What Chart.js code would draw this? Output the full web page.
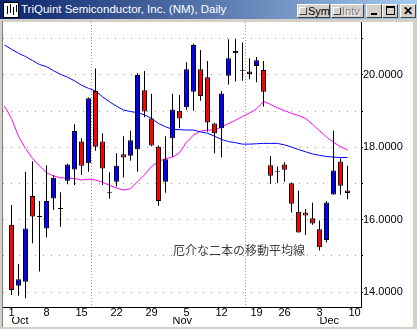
<!DOCTYPE html>
<html>
<head>
<meta charset="utf-8">
<script src="https://cdn.jsdelivr.net/npm/chart.js@4"></script>
<style>
  html, body { margin: 0; padding: 0; }
  body { width: 417px; height: 329px; background: #d4d0c8; position: relative; overflow: hidden;
         font-family: "Liberation Sans", Arial, sans-serif; }
  #bar { position: absolute; left: 0; top: 0; width: 417px; height: 19px;
         background: linear-gradient(to right, #0a246a, #a6caf0); }
  #ttl { position: absolute; left: 21px; top: 3px; color: #fff; font-size: 11.5px; line-height: 13px; white-space: nowrap; }
  #ico { position: absolute; left: 3px; top: 2px; width: 14px; height: 14px; background: #fff; border: 1px solid #000; }
  #ico i { position: absolute; width: 1px; background: #000; }
  .btn { position: absolute; top: 4px; height: 12px; background: #d4d0c8; border: 1px solid;
         border-color: #fff #404040 #404040 #fff; font-size: 11px; line-height: 12px; color: #000; box-sizing: content-box; }
  .chk { position: absolute; left: 1px; top: 2px; width: 6px; height: 6px; border: 1px solid;
         border-color: #fff #404040 #404040 #fff; }
  #edge { position: absolute; left: 2px; top: 21px; width: 1px; height: 306px; background: #808080; }
  #plot { position: absolute; left: 3px; top: 22px; background: #fff; }
  #note { position: absolute; left: 173px; top: 243px; font-family: "Noto Sans CJK JP"; font-size: 12px;
          line-height: 14px; color: #404040; white-space: nowrap; }
</style>
</head>
<body>
<div id="bar"></div>
<div id="ico"><i style="left:3px;top:3px;height:8px"></i><i style="left:6px;top:1px;height:9px"></i><i style="left:9px;top:4px;height:8px"></i><i style="left:12px;top:2px;height:7px"></i></div>
<div id="ttl">TriQuint Semiconductor, Inc. (NM), Daily</div>
<div class="btn" style="left:297px;width:31px"><span class="chk"></span><span style="position:absolute;left:10px;top:0">Sym</span></div>
<div class="btn" style="left:331px;width:31px"><span class="chk"></span><span style="position:absolute;left:10px;top:0;color:#808080;text-shadow:1px 1px #fff">Intv</span></div>
<div class="btn" style="left:366px;width:14px"><span style="position:absolute;left:4px;top:8px;width:6px;height:2px;background:#000"></span></div>
<div class="btn" style="left:382px;width:14px"><span style="position:absolute;left:3px;top:1px;width:7px;height:6px;border:1px solid #000;border-top-width:2px"></span></div>
<div class="btn" style="left:400px;width:14px;text-align:center;font-weight:bold;font-size:12px">&#x2715;</div>
<div id="edge"></div>
<canvas id="plot" width="410" height="305"></canvas>
<div id="note">厄介な二本の移動平均線</div>
<script>
// trading days, first entry (9/28) only carries moving-average values
const days = ['9/28',
  '10/1','10/2','10/3','10/4','10/5','10/8','10/9','10/10','10/11','10/12',
  '10/15','10/16','10/17','10/18','10/19','10/22','10/23','10/24','10/25','10/26',
  '10/29','10/30','10/31','11/1','11/2','11/5','11/6','11/7','11/8','11/9',
  '11/12','11/13','11/14','11/15','11/16','11/19','11/20','11/21','11/23',
  '11/26','11/27','11/28','11/29','11/30','12/3','12/4','12/5','12/6','12/7'];

const open = [null,
  15.86, 14.18, 14.29, 16.66, 16.08, 15.76, 16.59, 16.30, 17.08, 17.39,
  18.16, 17.56, 19.56, 18.16, 16.73, 17.05, 17.81, 17.77, 17.95, 19.58,
  18.80, 18.02, 17.05, 18.25, 19.01, 19.11, 19.54, 20.16, 19.94, 18.66,
  18.53, 19.98, 20.66, 20.12, 20.10, 20.25, 20.14, 17.51, 17.33,
  17.53, 17.01, 16.22, 16.20, 16.04, 15.74, 15.44, 16.70, 17.61, 16.81];
const high = [null,
  16.41, 14.78, 17.33, 17.62, 16.52, 17.51, 17.24, 16.76, 17.55, 18.64,
  18.25, 19.38, 20.18, 18.39, 17.31, 17.84, 18.31, 18.46, 20.05, 20.11,
  19.48, 18.05, 18.31, 19.48, 19.45, 20.35, 20.86, 20.69, 20.39, 18.68,
  19.56, 20.99, 20.99, 20.90, 20.46, 20.50, 20.39, 17.76, 17.47,
  17.59, 17.03, 16.80, 16.30, 16.47, 15.98, 16.52, 18.46, 17.70, 17.49];
const low = [null,
  13.92, 13.90, 13.83, 15.35, 14.57, 15.52, 16.27, 15.81, 16.98, 16.96,
  17.24, 17.33, 17.91, 16.96, 16.59, 16.92, 17.17, 17.63, 17.33, 18.83,
  18.03, 16.39, 16.75, 17.74, 18.53, 19.03, 19.01, 19.29, 18.43, 17.84,
  17.72, 19.74, 19.82, 19.84, 19.88, 19.80, 19.13, 16.99, 17.01,
  17.05, 16.20, 15.65, 15.58, 15.86, 15.15, 15.37, 16.69, 16.69, 16.57];
const close = [null,
  14.06, 14.36, 15.76, 16.09, 16.08, 16.52, 17.16, 16.30, 17.53, 18.45,
  17.49, 19.36, 18.02, 17.42, 16.73, 17.49, 17.72, 18.20, 20.00, 18.99,
  18.05, 16.52, 17.67, 19.05, 18.80, 20.16, 20.83, 19.42, 18.69, 18.39,
  19.49, 20.46, 20.60, 20.12, 20.03, 20.41, 19.54, 17.22, 17.33,
  17.38, 16.44, 15.65, 16.12, 15.90, 15.24, 16.48, 17.36, 16.94, 16.74];

// the two moving averages (blue = slow, magenta = fast)
const maSlow = [20.83,
  20.71, 20.60, 20.51, 20.40, 20.29, 20.23, 20.12, 20.02, 19.94, 19.84,
  19.72, 19.63, 19.56, 19.40, 19.26, 19.14, 19.03, 18.99, 18.96, 18.90,
  18.80, 18.66, 18.57, 18.50, 18.49, 18.48, 18.48, 18.43, 18.39, 18.31,
  18.22, 18.16, 18.13, 18.09, 18.09, 18.10, 18.11, 18.11, 18.11,
  18.07, 18.01, 17.94, 17.88, 17.82, 17.78, 17.75, 17.73, 17.72, 17.72];
const maFast = [19.14,
  18.80, 18.31, 17.97, 17.70, 17.49, 17.30, 17.21, 17.16, 17.15, 17.14,
  17.10, 17.12, 17.10, 17.04, 16.95, 16.88, 16.82, 16.86, 17.05, 17.24,
  17.47, 17.61, 17.69, 17.73, 17.85, 18.14, 18.34, 18.45, 18.48, 18.48,
  18.56, 18.66, 18.75, 18.85, 18.95, 19.06, 19.27, 19.19, 19.09,
  19.02, 18.94, 18.88, 18.80, 18.64, 18.46, 18.29, 18.14, 18.02, 17.93];

// axis labels: day ticks on Mondays, months at first trading day
const dayTicks = [1, 6, 11, 16, 21, 26, 31, 36, 40, 45, 50];
const dayLabels = ['1', '8', '15', '22', '29', '5', '12', '19', '26', '3', '10'];
const monthTicks = [1, 24, 45];
const monthLabels = ['Oct', 'Nov', 'Dec'];
const priceTicks = [14, 15, 16, 17, 18, 19, 20, 21];

const FONT = '"Liberation Sans", Arial, sans-serif';
const X_MIN = -0.2143, X_MAX = 50.929;
const Y_MIN = 13.591, Y_MAX = 21.464;

const bodies = [], wicks = [], bodyColors = [];
days.forEach(function(d, i) {
    if (open[i] == null) return;
    bodies.push({x: i, y: [open[i], close[i]]});
    wicks.push({x: i, y: [low[i], high[i]]});
    bodyColors.push(close[i] > open[i] ? '#0000ff' : (close[i] < open[i] ? '#ff0000' : '#000000'));
});

new Chart(document.getElementById('plot'), {
    type: 'bar',
    data: {
        datasets: [{
            data: bodies,
            backgroundColor: bodyColors,
            borderColor: '#000',
            borderWidth: 1,
            borderSkipped: false,
            barThickness: 5,
            minBarLength: 1,
            inflateAmount: 0,
            grouped: false,
            order: 0
        }, {
            data: wicks,
            backgroundColor: '#000',
            borderWidth: 0,
            barThickness: 1,
            inflateAmount: 0,
            grouped: false,
            order: 1
        }, {
            type: 'line',
            data: maSlow.map(function(v, i) { return {x: i, y: v}; }),
            borderColor: '#0000ff',
            borderWidth: 1,
            pointRadius: 0,
            tension: 0,
            order: 2
        }, {
            type: 'line',
            data: maFast.map(function(v, i) { return {x: i, y: v}; }),
            borderColor: '#ff00ff',
            borderWidth: 1,
            pointRadius: 0,
            tension: 0,
            order: 3
        }]
    },
    options: {
        responsive: false,
        animation: false,
        devicePixelRatio: 1,
        layout: { padding: 0 },
        plugins: { legend: { display: false }, tooltip: { enabled: false } },
        scales: {
            x: {
                type: 'linear', position: 'bottom', weight: 1,
                min: X_MIN, max: X_MAX, offset: false,
                grid: { display: false, drawTicks: false },
                border: { display: true, color: '#000', width: 1 },
                afterBuildTicks: function(s) { s.ticks = dayTicks.map(function(v) { return {value: v}; }); },
                afterFit: function(s) { s.height = 10; s.paddingLeft = 0; s.paddingRight = 0; },
                ticks: {
                    autoSkip: false, maxRotation: 0, padding: 0, color: '#000',
                    font: { family: FONT, size: 11, lineHeight: 1.1 },
                    callback: function(v, i) { return dayLabels[i]; }
                }
            },
            x2: {
                type: 'linear', position: 'bottom', weight: 2,
                min: X_MIN, max: X_MAX, offset: false,
                grid: { display: true, drawTicks: false, color: '#999', lineWidth: 1 },
                border: { display: false, dash: [1, 2] },
                afterBuildTicks: function(s) { s.ticks = monthTicks.map(function(v) { return {value: v}; }); },
                afterFit: function(s) { s.height = 10; s.paddingLeft = 0; s.paddingRight = 0; },
                ticks: {
                    autoSkip: false, maxRotation: 0, padding: 0, align: 'start', color: '#000',
                    font: { family: FONT, size: 11, lineHeight: 0.8 },
                    callback: function(v, i) { return monthLabels[i]; }
                }
            },
            y: {
                type: 'linear', position: 'right',
                min: Y_MIN, max: Y_MAX, beginAtZero: false,
                grid: { color: '#999', lineWidth: 1, drawTicks: true, tickLength: 2, tickColor: '#000', tickBorderDash: [] },
                border: { display: true, color: '#000', width: 1, dash: [1, 7] },
                afterBuildTicks: function(s) { s.ticks = priceTicks.map(function(v) { return {value: v}; }); },
                afterFit: function(s) { s.width = 52; s.paddingTop = 0; s.paddingBottom = 0; },
                ticks: {
                    padding: 0, color: '#000',
                    font: { family: FONT, size: 11 },
                    callback: function(v) { return v % 2 === 0 ? v.toFixed(4) : ''; }
                }
            }
        }
    }
});
</script>
</body>
</html>
